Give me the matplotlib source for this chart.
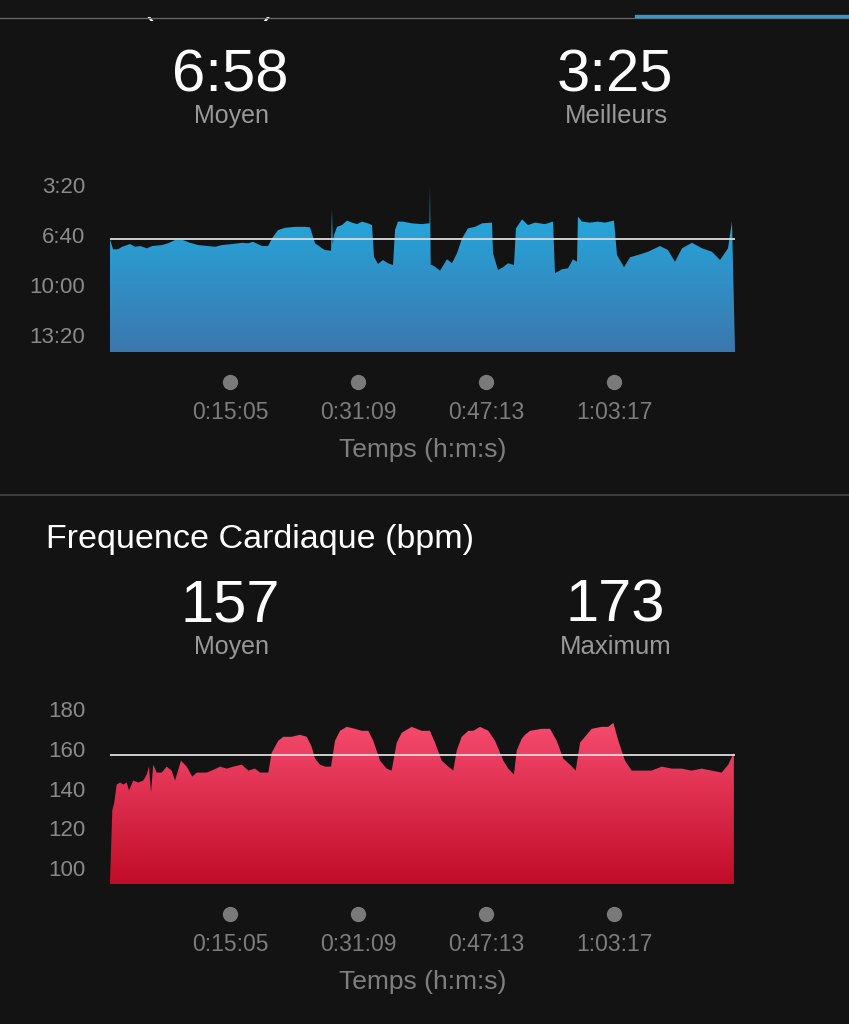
import matplotlib
matplotlib.use("Agg")
import matplotlib.pyplot as plt
import matplotlib.transforms as mtransforms
from matplotlib.colors import LinearSegmentedColormap
from matplotlib.lines import Line2D
from matplotlib.patches import Rectangle
import numpy as np

plt.rcParams['font.family'] = ['Liberation Sans', 'DejaVu Sans']

# ---- data -------------------------------------------------------------
total_min = 78.44  # duree totale (min)

# allure : temps (min) / allure (s par km)
pace_t = [0.0, 0.38, 1.0, 1.51, 2.51, 3.14, 3.77, 4.64, 5.27, 6.53,
          7.28, 8.16, 9.16, 10.04, 11.04, 12.3, 13.18, 14.06, 15.31, 16.57,
          17.32, 17.95, 19.08, 19.83, 20.46, 21.09, 21.96, 23.22, 24.47, 25.1,
          25.48, 25.73, 26.36, 26.61, 26.98, 27.74, 27.86, 27.95, 28.11, 28.49,
          29.12, 29.74, 30.37, 31.0, 31.63, 32.38, 32.88, 33.13, 33.63, 34.26,
          34.89, 35.52, 35.77, 36.14, 36.77, 37.9, 39.16, 39.91, 40.1, 40.16,
          40.25, 40.41, 40.79, 41.42, 42.29, 42.92, 43.55, 44.18, 44.93, 45.81,
          46.69, 47.94, 48.07, 48.69, 49.32, 49.95, 50.7, 50.95, 51.71, 52.46,
          53.34, 54.59, 55.6, 55.85, 56.73, 57.48, 58.11, 58.61, 58.73, 59.24,
          60.24, 61.24, 62.12, 63.25, 63.63, 64.51, 65.26, 66.26, 67.52, 69.03,
          70.03, 70.91, 71.79, 73.04, 74.3, 75.55, 76.56, 77.56, 78.06, 78.44]
pace_s = [418, 458, 458, 448, 437, 448, 445, 454, 445, 441,
          434, 421, 421, 432, 441, 445, 448, 441, 437, 432,
          434, 428, 445, 445, 408, 381, 372, 368, 368, 370,
          408, 434, 448, 454, 461, 464, 294, 440, 401, 368,
          361, 343, 351, 357, 347, 354, 361, 488, 517, 501,
          514, 521, 381, 347, 347, 354, 357, 354, 354, 205,
          521, 521, 528, 544, 498, 514, 474, 414, 374, 368,
          354, 351, 474, 541, 530, 514, 521, 374, 338, 361,
          351, 357, 347, 554, 538, 534, 498, 508, 327, 347,
          351, 347, 351, 343, 481, 530, 490, 481, 468, 445,
          461, 508, 454, 432, 454, 468, 501, 454, 347, 860]
pace_avg = 418   # 6:58
pace_best = 205  # 3:25
pace_ticks = [200, 400, 600, 800]

# frequence cardiaque : temps (min) / bpm
hr_t = [0.0, 0.29, 0.54, 0.84, 1.26, 1.67, 2.1, 2.38, 2.92, 3.55,
        4.18, 4.61, 4.89, 5.15, 5.43, 5.86, 6.49, 7.12, 7.74, 8.16,
        8.91, 9.63, 10.33, 10.88, 11.51, 12.14, 12.76, 13.81, 14.65, 15.47,
        16.53, 17.36, 18.2, 18.83, 19.87, 20.29, 21.12, 21.75, 22.8, 23.85,
        24.69, 25.31, 25.73, 26.36, 26.98, 27.74, 28.24, 28.87, 29.71, 30.75,
        31.59, 32.42, 33.04, 33.89, 34.72, 35.35, 35.98, 36.61, 37.86, 39.12,
        40.16, 40.79, 41.63, 42.46, 43.08, 43.51, 44.14, 44.97, 45.59, 46.44,
        47.48, 48.32, 49.36, 49.99, 50.7, 51.04, 51.67, 52.08, 52.71, 54.18,
        55.22, 56.06, 56.89, 57.73, 58.45, 58.99, 59.61, 60.45, 61.71, 62.54,
        63.17, 63.8, 64.63, 65.47, 66.73, 67.98, 69.24, 70.49, 71.75, 73.0,
        74.26, 75.51, 76.77, 77.6, 78.3]
hr_bpm = [93, 129, 133, 142, 143, 142, 143, 139, 144, 143,
          144, 147, 151, 138, 152, 148, 148, 151, 149, 144,
          154, 151, 146, 148, 148, 148, 149, 151, 150, 151,
          152, 149, 150, 148, 148, 158, 164, 166, 166, 167,
          166, 161, 155, 152, 151, 151, 164, 169, 171, 170,
          169, 169, 164, 154, 150, 149, 163, 168, 171, 169,
          169, 163, 154, 151, 149, 159, 166, 169, 169, 171,
          169, 164, 154, 150, 147, 159, 165, 167, 169, 170,
          170, 164, 155, 152, 149, 163, 166, 170, 171, 171,
          173, 164, 154, 149, 149, 149, 151, 150, 150, 149,
          150, 149, 148, 152, 158]
hr_avg = 157
hr_max = 173
hr_ticks = [100, 120, 140, 160, 180]

# reperes de temps (s)
time_ticks = [905, 1869, 2833, 3797]


def fmt_hms(s):
    return "%d:%02d:%02d" % (s // 3600, (s % 3600) // 60, s % 60)


def fmt_ms(s):
    return "%d:%02d" % (s // 60, s % 60)


# ---- figure -----------------------------------------------------------
W, H = 849, 1024
BG = '#131313'
GREY = '#8a8a8a'


def fx(px):
    return px / W


def fy(py):
    return 1 - py / H


fig = plt.figure(figsize=(W / 100, H / 100), dpi=100, facecolor=BG)


def gradient_fill(ax, x, y, base, top, c_top, c_bot):
    poly = ax.fill_between(x, y, base, facecolor='none', edgecolor='none')
    cmap = LinearSegmentedColormap.from_list('g', [c_bot, c_top])
    grad = np.linspace(0, 1, 256).reshape(-1, 1)
    im = ax.imshow(grad, extent=[0, total_min, base, top], origin='lower',
                   aspect='auto', cmap=cmap, zorder=1, interpolation='bilinear')
    im.set_clip_path(poly.get_paths()[0], transform=ax.transData)


def panel(ax, x, y, ylim, ticks, ticklabels, avg, c_top, c_bot, dot_y, lab_y, xl_y):
    ax.set_facecolor(BG)
    gradient_fill(ax, x, y, ylim[0], ylim[1], c_top, c_bot)
    ax.axhline(avg, color='#dcdcdc', lw=1.3, zorder=3)
    ax.set_xlim(0, total_min)
    ax.set_ylim(*ylim)
    for s in ax.spines.values():
        s.set_visible(False)
    ax.set_xticks([])
    ax.set_yticks(ticks, labels=ticklabels)
    ax.tick_params(axis='y', length=0, pad=18, labelsize=16, labelcolor=GREY)
    # points et etiquettes de temps sous le graphe
    blend = mtransforms.blended_transform_factory(ax.transData, fig.transFigure)
    tmin = [s / 60 for s in time_ticks]
    ax.plot(tmin, [fy(dot_y)] * len(tmin), 'o', ms=10, color='#7a7a7a',
            transform=blend, clip_on=False)
    for t, s in zip(tmin, time_ticks):
        ax.text(t, fy(lab_y), fmt_hms(s), transform=blend, ha='center',
                va='baseline', size=16.5, color='#7d7d7d')
    fig.text(fx(422.5), fy(xl_y), 'Temps (h:m:s)', ha='center', va='baseline',
             size=19, color='#7f7f7f')


# panneau allure
ax1 = fig.add_axes([fx(110), fy(352), 625 / W, 182 / H])
panel(ax1, pace_t, pace_s, (870, 140), pace_ticks, [fmt_ms(v) for v in pace_ticks],
      pace_avg, '#1fb6e9', '#3b77ae', 382, 419, 457)

# panneau frequence cardiaque
ax2 = fig.add_axes([fx(110), fy(884), 625 / W, 189 / H])
panel(ax2, hr_t, hr_bpm, (92, 187), hr_ticks, [str(v) for v in hr_ticks],
      hr_avg, '#ff567b', '#c10c28', 914, 951, 989)

# chiffres principaux
fig.text(fx(230), fy(91), fmt_ms(pace_avg), ha='center', va='baseline', size=43, color='white')
fig.text(fx(231), fy(123), 'Moyen', ha='center', va='baseline', size=18, color='#999999')
fig.text(fx(615), fy(91), fmt_ms(pace_best), ha='center', va='baseline', size=43, color='white')
fig.text(fx(616), fy(123), 'Meilleurs', ha='center', va='baseline', size=18.5, color='#999999')

fig.text(fx(46), fy(548), 'Frequence Cardiaque (bpm)', ha='left', va='baseline', size=24.5, color='white')
fig.text(fx(230), fy(622), str(hr_avg), ha='center', va='baseline', size=43, color='white')
fig.text(fx(231), fy(654), 'Moyen', ha='center', va='baseline', size=18, color='#999999')
fig.text(fx(615), fy(622), str(hr_max), ha='center', va='baseline', size=43, color='white')
fig.text(fx(616), fy(654), 'Maximum', ha='center', va='baseline', size=18.5, color='#999999')

# titre du haut, cache en partie par la barre d'en-tete (comme dans l'appli)
fig.text(fx(46), fy(14), 'Allure (min/km)', ha='left', va='baseline', size=24.5,
         color='white', zorder=1)
fig.add_artist(Rectangle((0, fy(17)), 1, 17 / H, transform=fig.transFigure,
                         facecolor='#141414', edgecolor='none', zorder=5))
fig.add_artist(Line2D([0, 1], [fy(17.5)] * 2, transform=fig.transFigure,
                      color='#6a6a6a', lw=0.9, zorder=6))
fig.add_artist(Line2D([fx(636), 1], [fy(15.5)] * 2, transform=fig.transFigure,
                      color='#2f9ad4', lw=2.4, zorder=7))

# separateur
fig.add_artist(Line2D([0, 1], [fy(495)] * 2, transform=fig.transFigure,
                      color='#3e3e3e', lw=1.4))

fig.savefig('out.png', dpi=100, facecolor=BG)
